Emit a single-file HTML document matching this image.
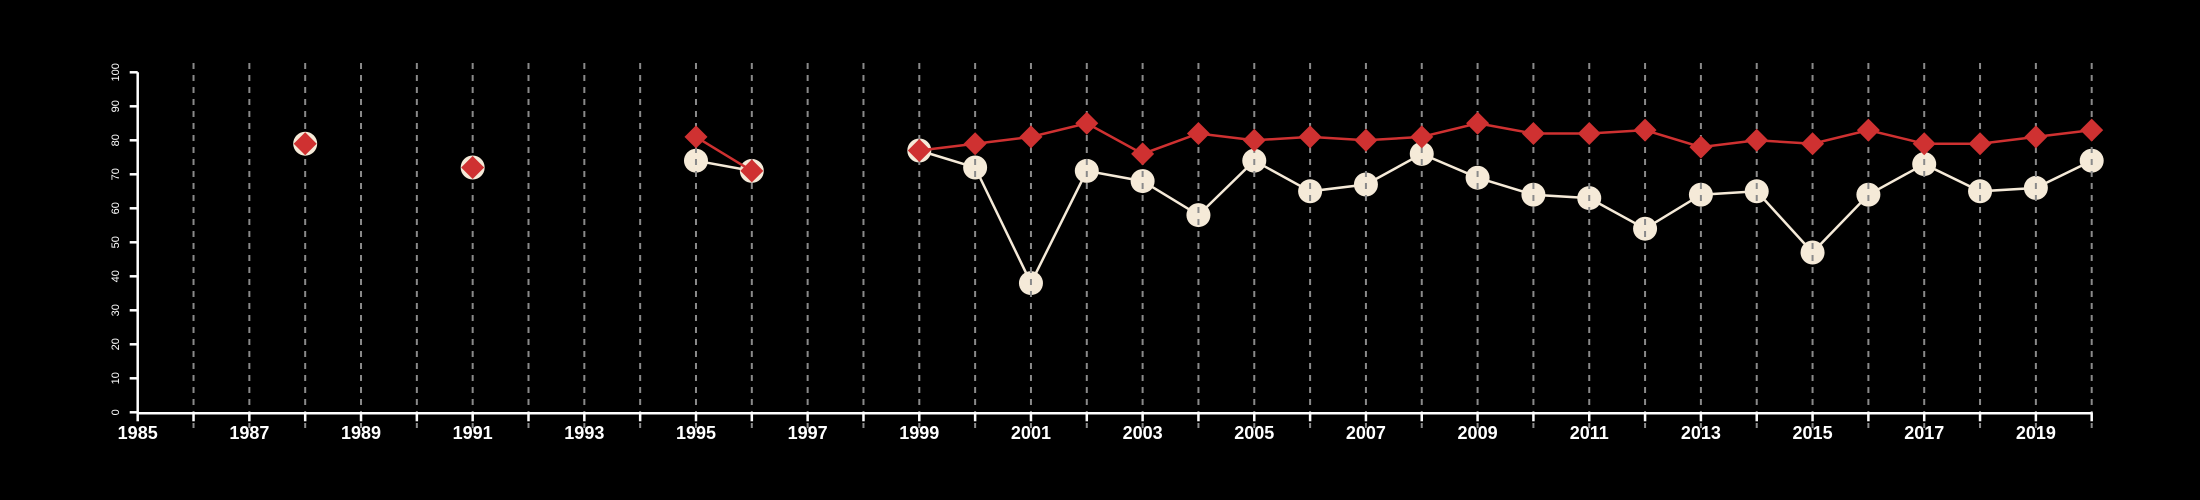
<!DOCTYPE html>
<html><head><meta charset="utf-8"><style>
html,body{margin:0;padding:0;background:#000;}
svg{display:block;font-family:"Liberation Sans",Arial,sans-serif;}
</style></head><body>
<svg id="chart" width="2200" height="500" viewBox="0 0 2200 500" xmlns="http://www.w3.org/2000/svg">
<rect width="2200" height="500" fill="#000"/>
<g id="g-white"></g>
<g id="g-grid"></g>
<g id="g-red"></g>
<g id="g-axes"></g>
</svg>
<script>
const years = [1988,1991,1995,1996,1999,2000,2001,2002,2003,2004,2005,2006,2007,2008,2009,2010,2011,2012,2013,2014,2015,2016,2017,2018,2019,2020];
const redValues = [79,72,81,71,77,79,81,85,76,82,80,81,80,81,85,82,82,83,78,80,79,83,79,79,81,83];
const whiteValues = [79,72,74,71,77,72,38,71,68,58,74,65,67,76,69,64,63,54,64,65,47,64,73,65,66,74];
const yTicks = [0,10,20,30,40,50,60,70,80,90,100];
const xLabels = [1985,1987,1989,1991,1993,1995,1997,1999,2001,2003,2005,2007,2009,2011,2013,2015,2017,2019];
const xMin = 1985, xMax = 2020, yMin = 0, yMax = 100;
const X0 = 137.7, X1 = 2091.7, Y0 = 412.3, Y1 = 72.3;
const NS = "http://www.w3.org/2000/svg";
function sx(v){return X0 + (v - xMin) / (xMax - xMin) * (X1 - X0);}
function sy(v){return Y0 - (v - yMin) / (yMax - yMin) * (Y0 - Y1);}
function mk(tag, attrs, parent){const e=document.createElementNS(NS,tag);for(const k in attrs)e.setAttribute(k,attrs[k]);parent.appendChild(e);return e;}
function segments(){const segs=[];let cur=[];for(let i=0;i<years.length;i++){if(i>0&&years[i]-years[i-1]>1){segs.push(cur);cur=[];}cur.push(i);}segs.push(cur);return segs;}

const gW=document.getElementById('g-white'), gG=document.getElementById('g-grid'), gR=document.getElementById('g-red'), gA=document.getElementById('g-axes');

// white series
segments().forEach(s=>{if(s.length>1){
  const p=mk('polyline',{points:s.map(i=>sx(years[i])+','+sy(whiteValues[i])).join(' '),fill:'none',stroke:'#f5ead8','stroke-width':2.5},gW);
  
  
}});
years.forEach((y,i)=>{
  const c=mk('circle',{cx:sx(y),cy:sy(whiteValues[i]),r:12,fill:'#f5ead8'},gW);
  
  
});

// gridlines
for(let y=xMin+1;y<=xMax;y++){
  const l=mk('line',{x1:sx(y),x2:sx(y),y1:63,y2:428,stroke:'#8a8a8a','stroke-width':2,'stroke-dasharray':'6,6'},gG);
  
  
}

// red series
segments().forEach(s=>{if(s.length>1){
  const p=mk('polyline',{points:s.map(i=>sx(years[i])+','+sy(redValues[i])).join(' '),fill:'none',stroke:'#cf3131','stroke-width':2.5},gR);
  
  
}});
years.forEach((y,i)=>{
  const cx=sx(y), cy=sy(redValues[i]), r=11.5;
  const d=mk('polygon',{points:`${cx},${cy-r} ${cx+r},${cy} ${cx},${cy+r} ${cx-r},${cy}`,fill:'#cf3131'},gR);
  
  
});

// axes
const ax=mk('line',{x1:X0,x2:X1,y1:Y0+1,y2:Y0+1,stroke:'#fff','stroke-width':2.5},gA);


const ay=mk('line',{x1:X0,x2:X0,y1:Y1,y2:Y0+1,stroke:'#fff','stroke-width':2.5},gA);


for(let y=xMin;y<=xMax;y++){
  const t=mk('line',{x1:sx(y),x2:sx(y),y1:Y0,y2:Y0+9,stroke:'#fff','stroke-width':2.5},gA);
  
  
}
xLabels.forEach(v=>{
  const t=mk('text',{x:sx(v),y:439,'text-anchor':'middle','font-size':18,'font-weight':'bold',fill:'#fff'},gA);
  t.textContent=v;
  
  
});
yTicks.forEach(v=>{
  const t=mk('line',{x1:X0-8,x2:X0,y1:sy(v),y2:sy(v),stroke:'#fff','stroke-width':2.5},gA);
  
  
  const yy=sy(v);
  const l=mk('text',{x:119,y:yy,'text-anchor':'middle','font-size':11,fill:'#fff',transform:`rotate(-90 119 ${yy})`},gA);
  l.textContent=v;
  
  
});
</script>
</body></html>
